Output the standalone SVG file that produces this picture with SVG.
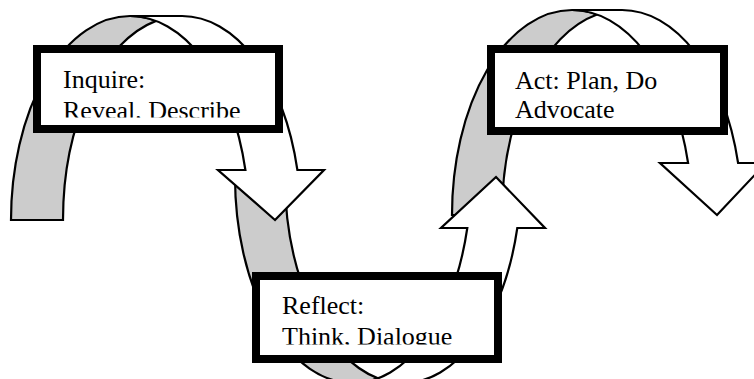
<svg xmlns="http://www.w3.org/2000/svg" width="754" height="379" viewBox="0 0 754 379">
<defs>
<style>
.back{fill:#cccccc;stroke:#000;stroke-width:2.2;stroke-linejoin:miter}
.front{fill:#ffffff;stroke:#000;stroke-width:2.2;stroke-linejoin:miter}
.box{fill:#ffffff;stroke:#000;stroke-width:8}
.lbl{font-family:"Liberation Serif","Times New Roman",serif;font-size:26px;fill:#000}
</style>
<clipPath id="c1"><rect x="41" y="53" width="234" height="64.5"/></clipPath>
<clipPath id="c2"><rect x="495" y="53" width="225" height="66"/></clipPath>
<clipPath id="c3"><rect x="260" y="280" width="234" height="64.5"/></clipPath>
</defs>
<rect width="754" height="379" fill="#fff"/>
<g id="connectors">
<g id="arrow-act">
<path class="back" d="M597,14.5 A120 205 0 0 0 502,215 L452,215 A120 205 0 0 1 572,10 A120 205 0 0 1 597,14.5 Z"/>
<path class="front" d="M717,215 L660,163 L688.1,163 A120 205 0 0 0 572,10 L622,10 A120 205 0 0 1 738.1,163 L766,163 Z"/>
</g>
<g id="arrow-reflect">
<path class="back" d="M378,378.3 A118 206 0 0 1 285,177 L235,177 A118 206 0 0 0 353,383 A118 206 0 0 0 378,378.3 Z"/>
<path class="front" d="M496,177 L545,228 L517.3,228 A118 206 0 0 1 403,383 L353,383 A118 206 0 0 0 467.3,228 L441,228 Z"/>
</g>
<g id="arrow-inquire">
<path class="back" d="M156,20.9 A119 204 0 0 0 63,220 L11,220 A119 204 0 0 1 130,16 A119 204 0 0 1 156,20.9 Z"/>
<path class="front" d="M275,220 L218,170 L245.4,170 A119 204 0 0 0 130,16 L182,16 A119 204 0 0 1 297.4,170 L324,170 Z"/>
</g>
</g>
<g id="inquire">
<rect class="box" x="37" y="49" width="242" height="80"/>
<g clip-path="url(#c1)">
<text class="lbl" x="63" y="87.5">Inquire:</text>
<text class="lbl" x="63" y="118.5">Reveal, Describe</text>
</g>
</g>
<g id="act">
<rect class="box" x="491" y="49" width="233" height="82"/>
<g clip-path="url(#c2)">
<text class="lbl" x="515" y="88.5">Act: Plan, Do</text>
<text class="lbl" x="515" y="118">Advocate</text>
</g>
</g>
<g id="reflect">
<rect class="box" x="256" y="276" width="242" height="83"/>
<g clip-path="url(#c3)">
<text class="lbl" x="282" y="313.5">Reflect:</text>
<text class="lbl" x="282" y="345">Think, Dialogue</text>
</g>
</g>
</svg>
